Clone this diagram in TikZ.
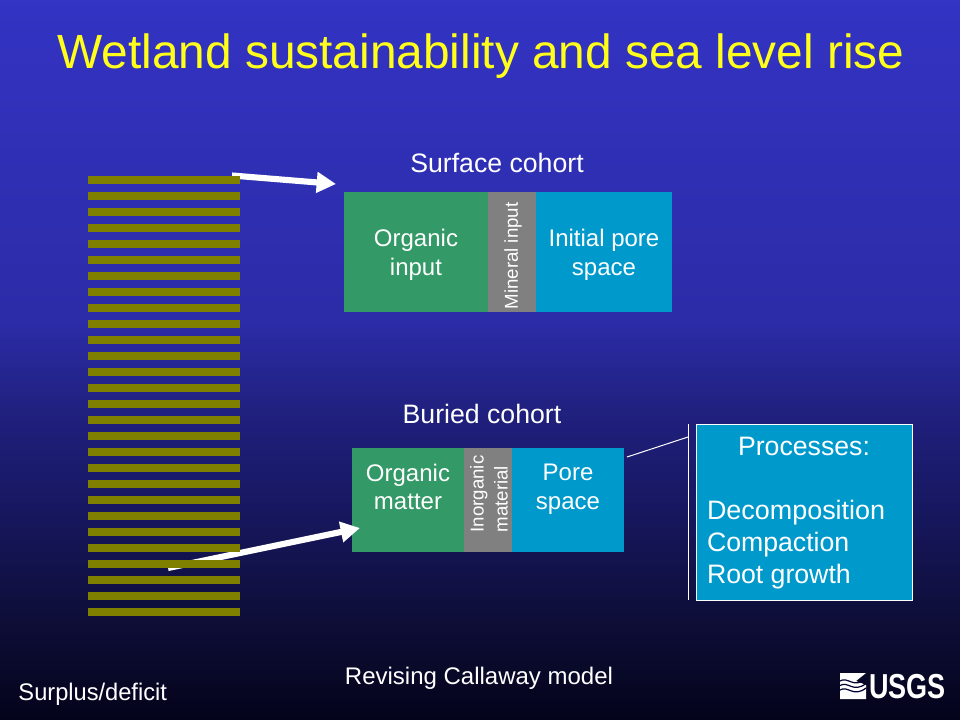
\documentclass[tikz,border=0pt]{standalone}
\usepackage{fontspec}
\setmainfont{Liberation Sans}
\usetikzlibrary{arrows.meta}
\definecolor{sbA}{HTML}{03031A}
\definecolor{sbB}{HTML}{0E0E38}
\definecolor{sbC}{HTML}{171760}
\definecolor{sbD}{HTML}{20207F}
\definecolor{sbE}{HTML}{2C2CA8}
\definecolor{sbF}{HTML}{2F2FB4}
\definecolor{sbG}{HTML}{3333C4}
\pgfdeclareverticalshading{slidebg}{100bp}{
  color(0bp)=(sbA); color(25bp)=(sbA); color(32bp)=(sbB); color(39.6bp)=(sbC); color(46.5bp)=(sbD);
  color(52.8bp)=(sbE); color(63.2bp)=(sbF); color(75bp)=(sbG); color(100bp)=(sbG)}
\definecolor{titley}{HTML}{FFFF1A}
\definecolor{barol}{HTML}{808000}
\definecolor{grn}{HTML}{339966}
\definecolor{gry}{HTML}{808080}
\definecolor{blu}{HTML}{0099CC}
\tikzset{
  x=0.75pt,y=-0.75pt,
  panel/.style={inner sep=0pt,outer sep=0pt,draw=none},
  txt/.style={text=white,inner sep=0pt,outer sep=0pt,align=center,font=\fontsize{18}{21.6}\selectfont},
  head/.style={text=white,inner sep=0pt,outer sep=0pt,font=\fontsize{20}{24}\selectfont},
  vert/.style={text=white,inner sep=0pt,outer sep=0pt,align=left,rotate=90,font=\fontsize{14}{18}\selectfont},
  bar/.style={panel,fill=barol,minimum width=114pt,minimum height=6pt},
  flow/.style={white,line width=4.6pt,-{Triangle[length=14.5pt,width=15pt]}},
  thinrule/.style={white,line width=0.75pt}
}
\begin{document}
\begin{tikzpicture}
\path[use as bounding box,shading=slidebg,shading angle=0] (0,0) rectangle (960,720);

\node[anchor=base,inner sep=0pt,text=titley,font=\fontsize{36}{43}\selectfont] (title) at (481,69) {\scalebox{.9965}[1]{Wetland sustainability and sea level rise}};

\node[anchor=base,head] (surf) at (497,173) {Surface cohort};
\node[panel,fill=grn,minimum width=108pt,minimum height=90pt] (og) at (416,252) {};
\node[panel,fill=gry,minimum width=36pt,minimum height=90pt] (mn) at (512,252) {};
\node[panel,fill=blu,minimum width=102pt,minimum height=90pt] (ip) at (604,252) {};
\node[txt] (ogt) at (416,255) {Organic\\input};
\node[vert] (mnt) at (513,256) {Mineral input};
\node[txt] (ipt) at (604,255) {Initial pore\\space};

\node[anchor=base,head] (bur) at (482,423) {Buried cohort};
\node[panel,fill=grn,minimum width=84pt,minimum height=78pt] (om) at (408,500) {};
\node[panel,fill=gry,minimum width=36pt,minimum height=78pt] (im) at (488,500) {};
\node[panel,fill=blu,minimum width=84pt,minimum height=78pt] (ps) at (568,500) {};
\node[txt] (omt) at (408,487) {Organic\\matter};
\node[vert] (imt) at (489,494) {Inorganic\\material};
\node[txt] (pst) at (568,489) {Pore\\space};

\coordinate (a1s) at (232,175.5);
\coordinate (a1e) at (336,184);
\coordinate (a2s) at (168,568);
\coordinate (a2e) at (360,528);
\draw[flow] (a1s) -- (a1e);
\draw[flow] (a2s) -- (a2e);

\foreach \i in {0,...,27}{
  \node[bar] (bar\i) at (164,{180+16*\i}) {};
}

\node[panel,fill=blu,draw=white,line width=0.75pt,minimum width=162pt,minimum height=132pt] (proc) at (804,512) {};
\node[anchor=base,head] (proct) at (804,455) {Processes:};
\node[anchor=base west,head] (p1) at (707,519) {\scalebox{1.01}[1]{Decomposition}};
\node[anchor=base west,head] (p2) at (707,551) {Compaction};
\node[anchor=base west,head] (p3) at (707,583) {Root growth};

\coordinate (barT) at (688,424);
\coordinate (barB) at (688,600);
\coordinate (ls) at (627,457);
\coordinate (le) at (688,437);
\draw[thinrule] (barT) -- (barB);
\draw[thinrule] (ls) -- (le);

\node[anchor=base,txt] (rev) at (479,684) {Revising Callaway model};
\node[anchor=base west,txt] (surp) at (18.5,700) {\scalebox{.985}[1]{Surplus/deficit}};

% USGS identifier
\fill[white] (840,673) -- (866,673) -- (856,681) -- (866,685) -- (866,699) -- (840,699) -- cycle;
\foreach \d in {0,4.5,9}{
  \draw[black!80!blue,line width=0.9pt] (840,{681+\d}) .. controls (848,{676+\d}) and (853,{689+\d}) .. (866,{679+\d});
}
\node[anchor=base west,inner sep=0pt,text=white,font=\fontsize{26}{30}\bfseries\selectfont] (usgs) at (869,698.5) {\scalebox{.78}[1]{USGS}};
\end{tikzpicture}
\end{document}
